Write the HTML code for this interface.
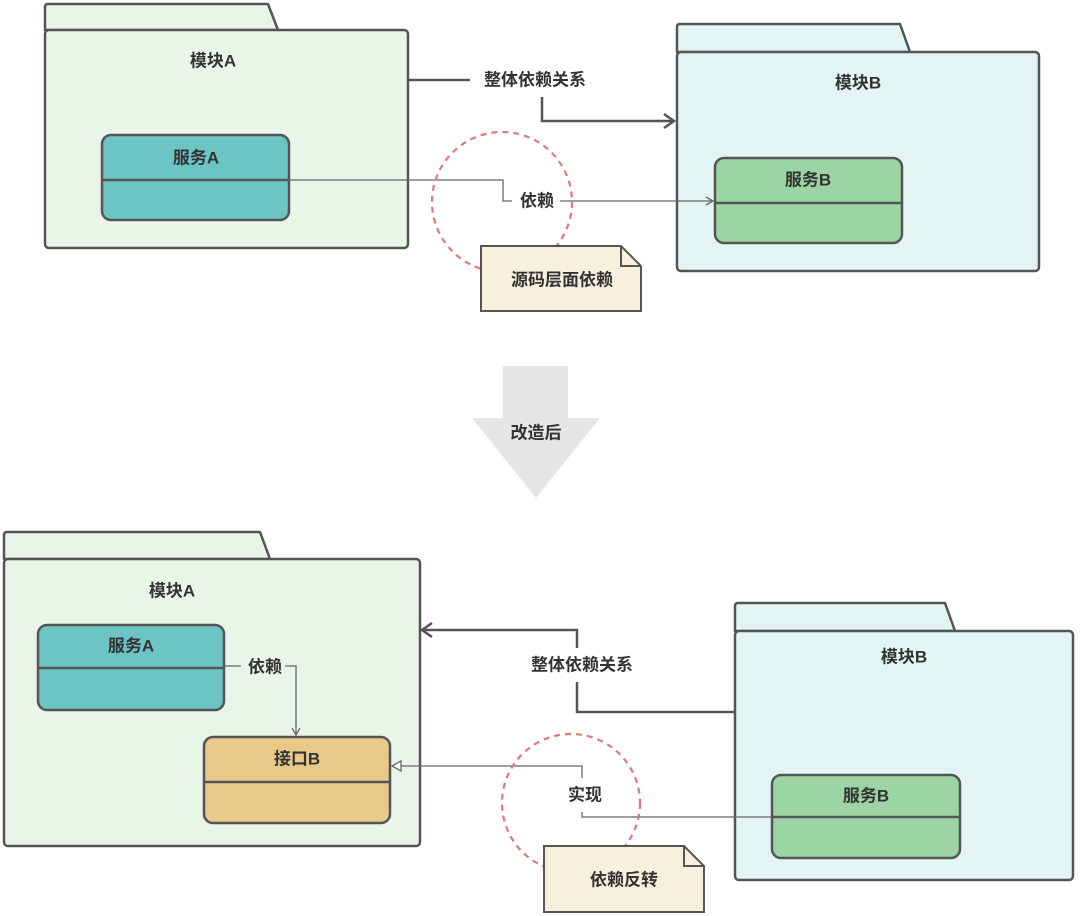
<!DOCTYPE html>
<html><head><meta charset="utf-8"><style>
html,body{margin:0;padding:0;background:#fff;}
svg{display:block;}
text{font-family:"Liberation Sans","Noto Sans CJK SC",sans-serif;font-weight:bold;fill:#333;text-anchor:middle;dominant-baseline:central;}
</style></head><body>
<svg width="1080" height="916" viewBox="0 0 1080 916" xmlns="http://www.w3.org/2000/svg">
<g stroke="#555" stroke-width="2.5" stroke-linejoin="round">
<!-- top module A -->
<path d="M45,30 L45,7 Q45,4 48,4 L268,4 L278,30 Z" fill="#e9f5e8"/>
<rect x="45" y="30" width="363" height="218" rx="4" fill="#e9f5e8"/>
<rect x="102" y="135" width="187" height="85" rx="9" fill="#6cc4c4"/>
<line x1="102" y1="180" x2="289" y2="180"/>
<!-- top module B -->
<path d="M677,52 L677,27 Q677,24 680,24 L900,24 L910,52 Z" fill="#e3f5f3"/>
<rect x="677" y="52" width="362" height="219" rx="4" fill="#e3f5f3"/>
<rect x="715" y="158" width="187" height="85" rx="9" fill="#9dd4a4"/>
<line x1="715" y1="203" x2="902" y2="203"/>
<!-- bottom module A -->
<path d="M4,559 L4,535 Q4,532 7,532 L260,532 L270,559 Z" fill="#e9f5e8"/>
<rect x="4" y="559" width="416" height="287" rx="4" fill="#e9f5e8"/>
<rect x="38" y="625" width="186" height="85" rx="9" fill="#6cc4c4"/>
<line x1="38" y1="668" x2="224" y2="668"/>
<rect x="204" y="737" width="186" height="86" rx="9" fill="#e8c98a"/>
<line x1="204" y1="782" x2="390" y2="782"/>
<!-- bottom module B -->
<path d="M735,631 L735,606 Q735,603 738,603 L945,603 L955,631 Z" fill="#e3f5f3"/>
<rect x="735" y="631" width="338" height="249" rx="4" fill="#e3f5f3"/>
<rect x="772" y="775" width="188" height="83" rx="9" fill="#9dd4a4"/>
<line x1="772" y1="817" x2="960" y2="817"/>
</g>
<!-- overall dependency lines -->
<g stroke="#555" stroke-width="2.5" fill="none">
<polyline points="408,80 470,80"/>
<polyline points="542,97 542,121 674,121"/>
<polyline points="664,114 674,121 664,128"/>
<polyline points="735,712 577,712 577,682"/>
<polyline points="577,648 577,630 422,630"/>
<polyline points="432,623 422,630 432,637"/>
</g>
<!-- thin lines -->
<g stroke="#666" stroke-width="1.3" fill="none">
<polyline points="289,180 503,180 503,201 512,201"/>
<polyline points="560,201 713,201"/>
<polyline points="706,197 713,201 706,205"/>
<polyline points="224,666 241,666"/>
<polyline points="285,666 296,666 296,735"/>
<polyline points="292,728 296,735 300,728"/>
<polyline points="772,817 582,817 582,812"/>
<polyline points="582,778 582,766 400,766"/>
<polygon points="392,766 401,761 401,771" fill="#fff"/>
</g>
<!-- dashed circles -->
<circle cx="502" cy="202" r="70" fill="none" stroke="#e07a7a" stroke-width="2.2" stroke-dasharray="6,5"/>
<circle cx="571" cy="803" r="69" fill="none" stroke="#e07a7a" stroke-width="2.2" stroke-dasharray="6,5"/>
<!-- notes -->
<g stroke="#555" stroke-width="2" fill="#f8efdc">
<path d="M481,246 L621,246 L641,266 L641,311 L481,311 Z"/>
<path d="M621,246 L621,266 L641,266" fill="none"/>
<path d="M544,846 L684,846 L704,866 L704,912 L544,912 Z"/>
<path d="M684,846 L684,866 L704,866" fill="none"/>
</g>
<!-- big arrow -->
<path d="M503,366 L568,366 L568,418 L600,418 L536,498 L472,418 L503,418 Z" fill="#e6e6e6"/>
<!-- labels -->
<g font-size="17">
<text x="213" y="61">模块A</text>
<text x="196" y="158">服务A</text>
<text x="535" y="80">整体依赖关系</text>
<text x="858" y="83">模块B</text>
<text x="808" y="180">服务B</text>
<text x="537" y="201">依赖</text>
<text x="562" y="280">源码层面依赖</text>
<text x="536" y="433">改造后</text>
<text x="172" y="591">模块A</text>
<text x="131" y="646">服务A</text>
<text x="265" y="667">依赖</text>
<text x="297" y="759">接口B</text>
<text x="582" y="665">整体依赖关系</text>
<text x="904" y="657">模块B</text>
<text x="866" y="796">服务B</text>
<text x="585" y="795">实现</text>
<text x="624" y="880">依赖反转</text>
</g>
</svg>
</body></html>
